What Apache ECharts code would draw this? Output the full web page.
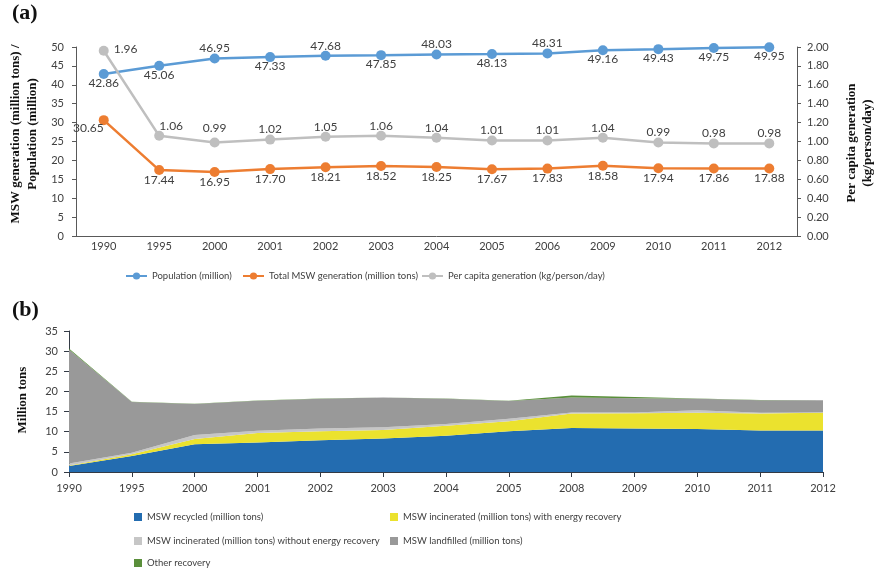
<!DOCTYPE html>
<html>
<head>
<meta charset="utf-8">
<script src="https://cdn.jsdelivr.net/npm/echarts@6/dist/echarts.min.js"></script>
<style>
  html, body { margin: 0; padding: 0; background: #ffffff; }
  #chart { width: 874px; height: 568px; }
</style>
</head>
<body>
<div id="chart"></div>
<script>
// Panel (a): population, total MSW generation and per capita generation
const yearsA = ['1990', '1995', '2000', '2001', '2002', '2003', '2004', '2005', '2006', '2009', '2010', '2011', '2012'];
const population = [42.86, 45.06, 46.95, 47.33, 47.68, 47.85, 48.03, 48.13, 48.31, 49.16, 49.43, 49.75, 49.95];
const totalMSW = [30.65, 17.44, 16.95, 17.70, 18.21, 18.52, 18.25, 17.67, 17.83, 18.58, 17.94, 17.86, 17.88];
const perCapita = [1.96, 1.06, 0.99, 1.02, 1.05, 1.06, 1.04, 1.01, 1.01, 1.04, 0.99, 0.98, 0.98];

// Panel (b): MSW management routes (million tons)
const yearsB = ['1990', '1995', '2000', '2001', '2002', '2003', '2004', '2005', '2008', '2009', '2010', '2011', '2012'];
const recycled = [1.5, 4.0, 6.9, 7.3, 7.9, 8.3, 9.0, 10.1, 10.9, 10.8, 10.7, 10.3, 10.3];
const incWithEnergy = [0.1, 0.4, 1.3, 2.4, 2.2, 2.1, 2.5, 2.5, 3.6, 3.8, 4.0, 4.2, 4.4];
const incWithoutEnergy = [0.5, 0.4, 1.0, 0.55, 0.7, 0.7, 0.4, 0.6, 0.3, 0.2, 0.6, 0.2, 0.1];
const landfilled = [28.3, 12.6, 7.7, 7.45, 7.4, 7.4, 6.3, 4.4, 3.7, 3.5, 2.9, 3.1, 3.0];
const otherRecovery = [0.25, 0.05, 0.05, 0.02, 0.02, 0.02, 0.05, 0.07, 0.5, 0.3, 0.05, 0.05, 0.08];

const FONT = 'Lato, "Open Sans", sans-serif';
const SERIF = '"Liberation Serif", "DejaVu Serif", serif';
const TEXT = '#404040';
const AXIS = '#595959';

const fmt2 = p => Number(p.value).toFixed(2);

// population labels alternate above/below the markers
const popAbove = new Set([2, 4, 6, 8]);
const popData = population.map((v, i) => ({
  value: v,
  label: { offset: [0, popAbove.has(i) ? -10 : 9] }
}));
const mswData = totalMSW.map((v, i) => (i === 0
  ? { value: v, label: { align: 'right', offset: [0, 8] } }
  : { value: v, label: { offset: [0, 10] } }));
const pcData = perCapita.map((v, i) => {
  if (i === 0) return { value: v, label: { align: 'left', offset: [10, -2] } };
  if (i === 1) return { value: v, label: { offset: [12, -10] } };
  return { value: v, label: { offset: [0, i === 2 ? -14 : -10] } };
});

const lineLabel = {
  show: true, position: 'inside', formatter: fmt2,
  color: TEXT, fontFamily: FONT, fontSize: 12
};

function lineSeries(name, data, color, yAxisIndex) {
  return {
    name, type: 'line', xAxisIndex: 0, yAxisIndex,
    data, symbol: 'circle', symbolSize: 10,
    itemStyle: { color }, lineStyle: { color, width: 2.5 },
    label: lineLabel, emphasis: { disabled: true }, animation: false
  };
}

function areaSeries(name, data, color) {
  return {
    name, type: 'line', xAxisIndex: 1, yAxisIndex: 2, stack: 'route',
    data, symbol: 'none', showSymbol: false,
    lineStyle: { width: 0, color }, itemStyle: { color },
    areaStyle: { color, opacity: 1 }, emphasis: { disabled: true }, animation: false
  };
}

const axisLabelStyle = { color: TEXT, fontFamily: FONT, fontSize: 11 };
const legendText = { color: TEXT, fontFamily: FONT, fontSize: 9.5 };

// one legend entry per block so each sits in its own slot
function lineLegend(name, left) {
  return {
    data: [name], left, top: 266, itemWidth: 21, itemHeight: 9, itemGap: 0,
    textStyle: legendText, selectedMode: false
  };
}
function squareLegend(name, left, top) {
  return {
    data: [name], left, top, itemWidth: 8, itemHeight: 8, itemGap: 0,
    icon: 'rect', textStyle: legendText, selectedMode: false
  };
}

const option = {
  backgroundColor: '#ffffff',
  animation: false,
  grid: [
    { left: 76, right: 77, top: 47, height: 189 },
    { left: 69, right: 51, top: 331, height: 141 }
  ],
  xAxis: [
    {
      type: 'category', gridIndex: 0, data: yearsA, boundaryGap: true,
      axisLine: { lineStyle: { color: AXIS, width: 1 } },
      axisTick: { show: false },
      axisLabel: Object.assign({ margin: 5, interval: 0 }, axisLabelStyle)
    },
    {
      type: 'category', gridIndex: 1, data: yearsB, boundaryGap: false,
      axisLine: { lineStyle: { color: '#333a45', width: 1 } },
      axisTick: { show: true, length: 5, alignWithLabel: true, lineStyle: { color: '#333a45' } },
      axisLabel: Object.assign({ margin: 11, interval: 0 }, axisLabelStyle)
    }
  ],
  yAxis: [
    {
      type: 'value', gridIndex: 0, min: 0, max: 50, interval: 5,
      axisLine: { show: true, lineStyle: { color: AXIS } },
      axisTick: { show: true, length: 4, lineStyle: { color: AXIS } },
      splitLine: { show: false },
      axisLabel: Object.assign({ margin: 12 }, axisLabelStyle)
    },
    {
      type: 'value', gridIndex: 0, position: 'right', min: 0, max: 2, interval: 0.2,
      axisLine: { show: true, lineStyle: { color: AXIS } },
      axisTick: { show: true, length: 4, lineStyle: { color: AXIS } },
      splitLine: { show: false },
      axisLabel: Object.assign({ margin: 10, formatter: v => v.toFixed(2) }, axisLabelStyle)
    },
    {
      type: 'value', gridIndex: 1, min: 0, max: 35, interval: 5,
      axisLine: { show: true, lineStyle: { color: '#333a45' } },
      axisTick: { show: true, length: 5, lineStyle: { color: '#333a45' } },
      splitLine: { show: false },
      axisLabel: Object.assign({ margin: 11 }, axisLabelStyle)
    }
  ],
  legend: [
    lineLegend('Population (million)', 120),
    lineLegend('Total MSW generation (million tons)', 237),
    lineLegend('Per capita generation (kg/person/day)', 416),
    squareLegend('MSW recycled (million tons)', 129, 507),
    squareLegend('MSW incinerated (million tons) with energy recovery', 385, 507),
    squareLegend('MSW incinerated (million tons) without energy recovery', 129, 531),
    squareLegend('MSW landfilled (million tons)', 385, 531),
    squareLegend('Other recovery', 129, 553)
  ],
  graphic: [
    { type: 'text', left: 12, top: 2, style: { text: '(a)', font: 'bold 22px ' + SERIF, fill: '#111' } },
    { type: 'text', left: 12, top: 299, style: { text: '(b)', font: 'bold 22px ' + SERIF, fill: '#111' } },
    {
      type: 'text', x: 16, y: 134, rotation: Math.PI / 2,
      style: { text: 'MSW generation (million tons) /', font: 'bold 13px ' + SERIF, fill: '#111', align: 'center', verticalAlign: 'middle' }
    },
    {
      type: 'text', x: 33, y: 134, rotation: Math.PI / 2,
      style: { text: 'Population (million)', font: 'bold 13px ' + SERIF, fill: '#111', align: 'center', verticalAlign: 'middle' }
    },
    {
      type: 'text', x: 852, y: 143, rotation: Math.PI / 2,
      style: { text: 'Per capita generation', font: 'bold 13px ' + SERIF, fill: '#111', align: 'center', verticalAlign: 'middle' }
    },
    {
      type: 'text', x: 868, y: 143, rotation: Math.PI / 2,
      style: { text: '(kg/person/day)', font: 'bold 13px ' + SERIF, fill: '#111', align: 'center', verticalAlign: 'middle' }
    },
    {
      type: 'text', x: 23, y: 400, rotation: Math.PI / 2,
      style: { text: 'Million tons', font: 'bold 13px ' + SERIF, fill: '#111', align: 'center', verticalAlign: 'middle' }
    }
  ],
  series: [
    lineSeries('Population (million)', popData, '#5b9bd5', 0),
    lineSeries('Total MSW generation (million tons)', mswData, '#ed7d31', 0),
    lineSeries('Per capita generation (kg/person/day)', pcData, '#bfbfbf', 1),
    areaSeries('MSW recycled (million tons)', recycled, '#236cb0'),
    areaSeries('MSW incinerated (million tons) with energy recovery', incWithEnergy, '#ebe22e'),
    areaSeries('MSW incinerated (million tons) without energy recovery', incWithoutEnergy, '#c6c6c6'),
    areaSeries('MSW landfilled (million tons)', landfilled, '#999999'),
    areaSeries('Other recovery', otherRecovery, '#5a8f3b')
  ]
};

const chart = echarts.init(document.getElementById('chart'), null, { renderer: 'canvas' });
chart.setOption(option);
</script>
</body>
</html>
